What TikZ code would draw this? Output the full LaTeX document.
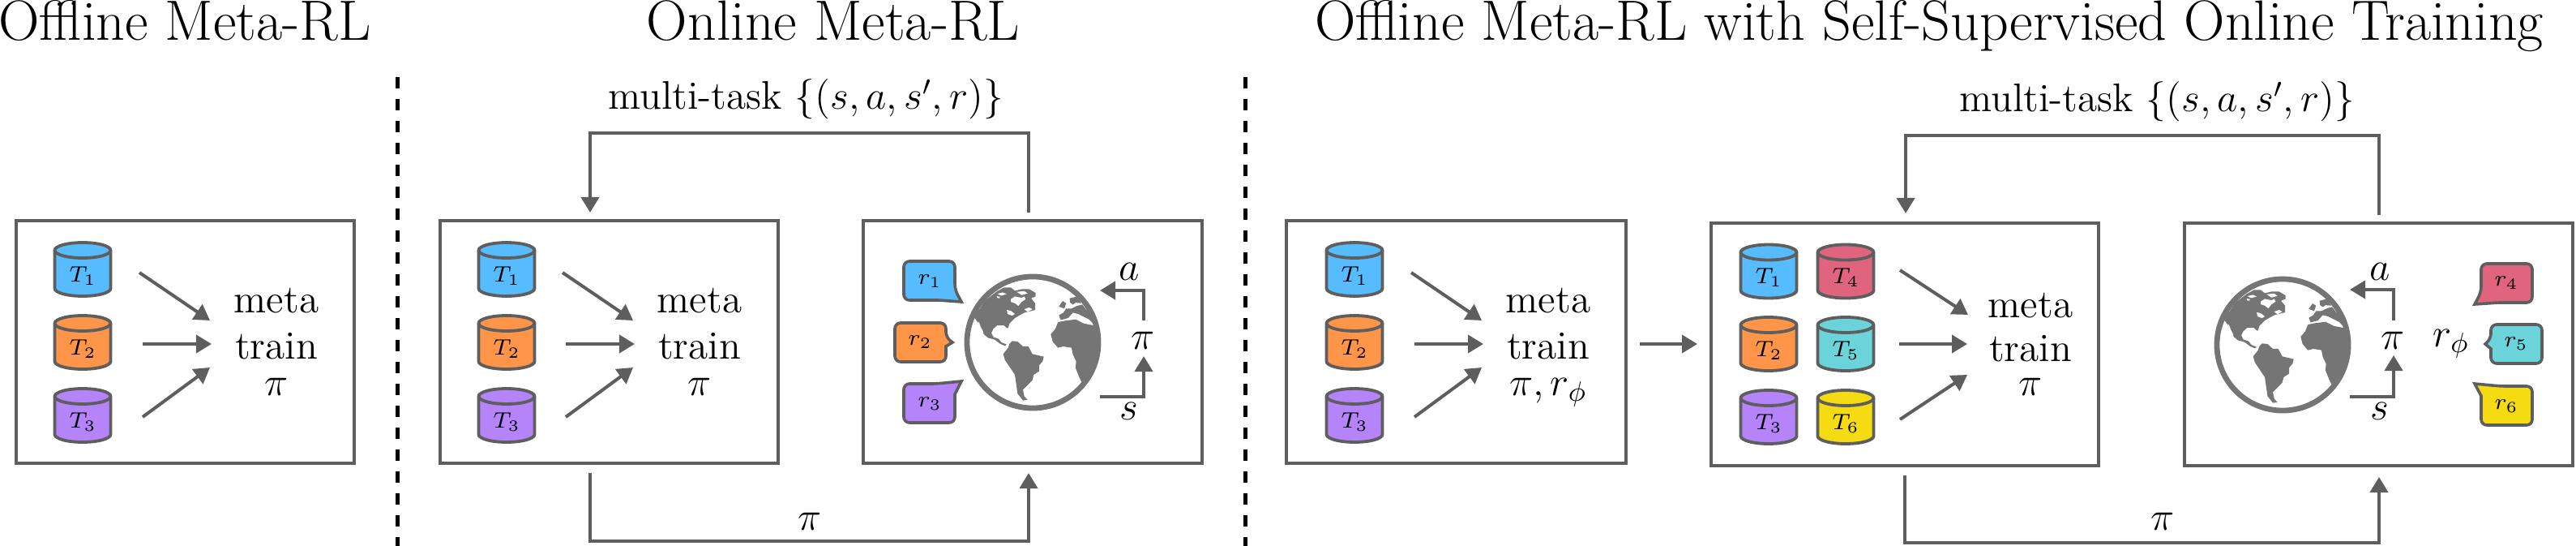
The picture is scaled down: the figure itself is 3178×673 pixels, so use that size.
\documentclass[tikz,border=0pt]{standalone}
\usepackage{fix-cm}
\usepackage{amsmath,amssymb}
\usepackage{xcolor}
\usetikzlibrary{arrows.meta,positioning}

\definecolor{taskblue}{HTML}{56BCFF}
\definecolor{taskorange}{HTML}{FF9549}
\definecolor{taskpurple}{HTML}{B583FA}
\definecolor{taskpink}{HTML}{E0647E}
\definecolor{taskcyan}{HTML}{6BD4DA}
\definecolor{taskyellow}{HTML}{F5DC12}
\definecolor{linegray}{HTML}{5E5E5E}
\definecolor{earthgray}{HTML}{757575}

\tikzset{
  panel/.style={draw=linegray,line width=0.04cm,minimum height=2.99cm,inner sep=0pt},
  taskline/.style={draw=linegray,line width=0.038cm},
  tasklabel/.style={font=\fontsize{7.8}{9}\selectfont,inner sep=0pt},
  bubble/.style={draw=linegray,line width=0.036cm},
  rewardlabel/.style={font=\fontsize{7.8}{9}\selectfont,inner sep=0pt},
  flow/.style={draw=linegray,line width=0.04cm,-{Triangle[length=0.19cm,width=0.22cm]}},
  bodytext/.style={font=\fontsize{14}{16}\selectfont,anchor=base,inner sep=0pt},
  titletext/.style={font=\fontsize{19.9}{22}\selectfont,anchor=base,inner sep=0pt},
  sepline/.style={draw=black,line width=0.05cm,dash pattern=on 0.135cm off 0.135cm},
  earthring/.style={circle,draw=earthgray,line width=0.068cm,minimum size=1.62cm,inner sep=0pt}
}

% continents, traced in units of a third of a pixel
\newcommand{\worldmap}[1]{%
  \begin{scope}[shift={(#1)},x=0.00333cm,y=-0.00333cm,shift={(-281,-275)}]
    \clip (281,275) circle [radius=248];
    \fill[earthgray] (60,180) -- (85,150) -- (105,120) -- (130,100) -- (150,85) -- (175,72)
      -- (200,72) -- (215,84) -- (240,78) -- (268,78) -- (292,92) -- (292,105) -- (275,112)
      -- (290,130) -- (290,155) -- (270,160) -- (250,165) -- (232,175) -- (215,185) -- (195,205)
      -- (190,222) -- (185,222) -- (175,212) -- (150,212) -- (135,225) -- (128,240) -- (135,255)
      -- (155,262) -- (165,275) -- (185,283) -- (178,288) -- (160,280) -- (140,265) -- (115,258)
      -- (100,245) -- (92,225) -- (80,205) -- (70,190) -- cycle;
    \fill[earthgray] (205,270) -- (225,272) -- (245,290) -- (265,290) -- (280,318) -- (322,328)
      -- (318,345) -- (305,360) -- (305,382) -- (285,395) -- (280,415) -- (260,435) -- (245,450)
      -- (250,475) -- (262,488) -- (245,490) -- (225,465) -- (220,430) -- (215,395) -- (195,365)
      -- (178,340) -- (172,318) -- (190,295) -- (195,280) -- cycle;
    \fill[earthgray] (375,200) -- (400,195) -- (440,190) -- (470,205) -- (505,212) -- (540,225)
      -- (540,300) -- (510,350) -- (490,390) -- (462,422) -- (452,400) -- (440,370) -- (442,345)
      -- (430,320) -- (425,295) -- (395,290) -- (375,295) -- (355,272) -- (348,245) -- (365,225) -- cycle;
    \fill[earthgray] (378,175) -- (395,165) -- (405,150) -- (425,150) -- (445,140) -- (465,135)
      -- (480,155) -- (510,175) -- (510,210) -- (490,190) -- (470,180) -- (450,170) -- (430,165)
      -- (412,185) -- (385,192) -- cycle;
    \fill[earthgray] (378,142) -- (392,122) -- (405,130) -- (398,150) -- cycle;
    \fill[earthgray] (418,112) -- (445,105) -- (462,130) -- (440,128) -- (430,135) -- (420,128) -- cycle;
    \fill[white] (200,115) -- (215,105) -- (240,110) -- (250,105) -- (255,115) -- (240,125)
      -- (228,140) -- (215,130) -- (200,125) -- cycle;
    \fill[white] (150,95) -- (170,90) -- (185,96) -- (165,102) -- cycle;
    \fill[white] (148,104) -- (160,106) -- (158,112) -- (148,110) -- cycle;
    \fill[white] (185,155) -- (200,158) -- (215,170) -- (205,176) -- (188,170) -- cycle;
    \fill[white] (250,152) -- (268,146) -- (280,152) -- (262,162) -- cycle;
    \fill[white] (222,88) -- (250,85) -- (262,94) -- (240,100) -- cycle;
    \draw[white,line width=0.012cm] (80,200) -- (88,222) -- (97,238);
  \end{scope}
}

\begin{document}
\begin{tikzpicture}[x=0.01cm,y=-0.01cm]
  \useasboundingbox (0,0) rectangle (3178,673);

  % titles
  \node[titletext] (titleoff) at (228,50) {Offline Meta-RL};
  \node[titletext] (titleon) at (1028,50) {Online Meta-RL};
  \node[titletext] (titleself) at (2380,50) {Offline Meta-RL with Self-Supervised Online Training};

  % separators
  \coordinate (sepa) at (490,95);
  \coordinate (sepb) at (490,673);
  \coordinate (sepc) at (1536,95);
  \coordinate (sepd) at (1536,673);
  \draw[sepline] (sepa) -- (sepb);
  \draw[sepline] (sepc) -- (sepd);

  % panels
  \node[panel,minimum width=4.17cm] (offbox) at (228.5,421.5) {};
  \node[panel,minimum width=4.17cm] (trainbox) at (751.5,421.5) {};
  \node[panel,minimum width=4.18cm] (envbox) at (1274,421.5) {};
  \node[panel,minimum width=4.18cm] (premetabox) at (1796.5,421.5) {};
  \node[panel,minimum width=4.78cm] (mixbox) at (2350,424.5) {};
  \node[panel,minimum width=4.79cm] (selfenvbox) at (2934.5,424.5) {};

  % task buffers
  \foreach \nm/\x/\y/\col/\n in {
      ta/102/332/taskblue/1,tb/102/422/taskorange/2,tc/102/512/taskpurple/3,
      td/625/332/taskblue/1,te/625/422/taskorange/2,tf/625/512/taskpurple/3,
      tg/1671/332/taskblue/1,th/1671/422/taskorange/2,ti/1671/512/taskpurple/3,
      tj/2182/334.5/taskblue/1,tk/2182/424/taskorange/2,tl/2182/514/taskpurple/3,
      tm/2277/334.5/taskpink/4,tn/2277/424/taskcyan/5,to/2277/514/taskyellow/6} {
    \begin{scope}[shift={(\x,\y)}]
      \draw[taskline,fill=\col] (-34.5,-23.5) -- (-34.5,23.5)
        arc [start angle=180,end angle=0,x radius=34.5,y radius=9.5] -- (34.5,-23.5)
        arc [start angle=0,end angle=-180,x radius=34.5,y radius=9.5] -- cycle;
      \draw[taskline] (-34.5,-23.5) arc [start angle=180,end angle=0,x radius=34.5,y radius=9.5];
      \node[tasklabel] (\nm) at (0,8) {$T_{\n}$};
    \end{scope}
  }

  % arrows into the meta train text
  \foreach \p/\dx in {a/0,b/522,c/1569} {
    \coordinate (\p sa) at ({172+\dx},336);
    \coordinate (\p ea) at ({259+\dx},395);
    \coordinate (\p sb) at ({176+\dx},424);
    \coordinate (\p eb) at ({261+\dx},424);
    \coordinate (\p sc) at ({176+\dx},514);
    \coordinate (\p ec) at ({259+\dx},453);
    \draw[flow] (\p sa) -- (\p ea);
    \draw[flow] (\p sb) -- (\p eb);
    \draw[flow] (\p sc) -- (\p ec);
  }
  \coordinate (dsa) at (2344,333);
  \coordinate (dea) at (2428,388);
  \coordinate (dsb) at (2343,424);
  \coordinate (deb) at (2427,424);
  \coordinate (dsc) at (2344,517);
  \coordinate (dec) at (2427,462);
  \draw[flow] (dsa) -- (dea);
  \draw[flow] (dsb) -- (deb);
  \draw[flow] (dsc) -- (dec);

  % meta train text
  \foreach \nm/\x/\ya/\yb/\yc/\last in {
      oa/341/386/442/487/\pi,ob/863/386/442/487/\pi,
      oc/1910/386/442/487/{\pi,r_\phi},od/2505/391/445/487/\pi} {
    \node[bodytext] (\nm meta) at (\x,\ya) {meta};
    \node[bodytext] (\nm train) at (\x,\yb) {train};
    \node[bodytext] (\nm algo) at (\x,\yc) {$\last$};
  }

  % feedback loops
  \coordinate (upa) at (1269,262);
  \coordinate (upb) at (728,262);
  \coordinate (dna) at (728,583);
  \coordinate (dnb) at (1269,583);
  \draw[flow] (upa) -- (1269,164) -- (728,164) -- (upb);
  \draw[flow] (dna) -- (728,667) -- (1269,667) -- (dnb);
  \node[bodytext] (multion) at (994,135) {multi-task $\{(s,a,s',r)\}$};
  \node[bodytext] (pion) at (999,653) {$\pi$};

  \coordinate (upc) at (2935,265);
  \coordinate (upd) at (2351,263);
  \coordinate (dnc) at (2350,586);
  \coordinate (dnd) at (2935,588);
  \draw[flow] (upc) -- (2935,167) -- (2351,167) -- (upd);
  \draw[flow] (dnc) -- (2350,669) -- (2935,669) -- (dnd);
  \node[bodytext] (multiself) at (2661,138) {multi-task $\{(s,a,s',r)\}$};
  \node[bodytext] (piself) at (2668,653) {$\pi$};

  % between the offline and mixed panels
  \coordinate (cross) at (2023,424);
  \coordinate (crosse) at (2094,424);
  \draw[flow] (cross) -- (crosse);

  % first world
  \node[earthring] (earthone) at (1274,422) {};
  \worldmap{earthone}
  \coordinate (aout) at (1411,395);
  \coordinate (ain) at (1357,358);
  \coordinate (sout) at (1357,489);
  \coordinate (sin) at (1411,439);
  \draw[flow] (aout) |- (ain);
  \draw[flow] (sout) -| (sin);
  \node[bodytext] (aone) at (1393,345) {$a$};
  \node[bodytext] (sone) at (1393,517) {$s$};
  \node[bodytext] (pione) at (1410,430) {$\pi$};

  \draw[bubble,fill=taskblue] (1115,346) [rounded corners=0.07cm] -- (1115,322) -- (1178,322) -- (1178,357)
    [sharp corners] -- (1186,372) -- (1158,370) [rounded corners=0.07cm] -- (1115,370) -- cycle;
  \draw[bubble,fill=taskorange] (1104,422) [rounded corners=0.07cm] -- (1104,398) -- (1167,398) -- (1167,416)
    [sharp corners] -- (1175,422) -- (1167,427) [rounded corners=0.07cm] -- (1167,446) -- (1104,446) -- cycle;
  \draw[bubble,fill=taskpurple] (1115,497) [rounded corners=0.07cm] -- (1115,473) -- (1155,473)
    [sharp corners] -- (1186,470) -- (1178,486) [rounded corners=0.07cm] -- (1178,521) -- (1115,521) -- cycle;
  \node[rewardlabel] (rone) at (1147,347) {$r_1$};
  \node[rewardlabel] (rtwo) at (1135,422) {$r_2$};
  \node[rewardlabel] (rthree) at (1147,498) {$r_3$};

  % second world
  \node[earthring] (earthtwo) at (2816,425) {};
  \worldmap{earthtwo}
  \coordinate (boutg) at (2953,395);
  \coordinate (bing) at (2899,357);
  \coordinate (toutg) at (2899,489);
  \coordinate (ting) at (2953,438);
  \draw[flow] (boutg) |- (bing);
  \draw[flow] (toutg) -| (ting);
  \node[bodytext] (atwo) at (2936,345) {$a$};
  \node[bodytext] (stwo) at (2936,517) {$s$};
  \node[bodytext] (pitwo) at (2952,430) {$\pi$};
  \node[bodytext] (rphi) at (3024,427) {$r_\phi$};

  \draw[bubble,fill=taskpink] (3124,349) [rounded corners=0.07cm] -- (3124,325) -- (3061,325) -- (3061,360)
    [sharp corners] -- (3053,375) -- (3083,373) [rounded corners=0.07cm] -- (3124,373) -- cycle;
  \draw[bubble,fill=taskcyan] (3136,424) [rounded corners=0.07cm] -- (3136,400) -- (3073,400) -- (3073,418)
    [sharp corners] -- (3066,424) -- (3073,430) [rounded corners=0.07cm] -- (3073,448) -- (3136,448) -- cycle;
  \draw[bubble,fill=taskyellow] (3124,500) [rounded corners=0.07cm] -- (3124,476) -- (3085,476)
    [sharp corners] -- (3053,473) -- (3061,488) [rounded corners=0.07cm] -- (3061,524) -- (3124,524) -- cycle;
  \node[rewardlabel] (rfour) at (3092,349) {$r_4$};
  \node[rewardlabel] (rfive) at (3104,424) {$r_5$};
  \node[rewardlabel] (rsix) at (3092,501) {$r_6$};
\end{tikzpicture}
\end{document}
